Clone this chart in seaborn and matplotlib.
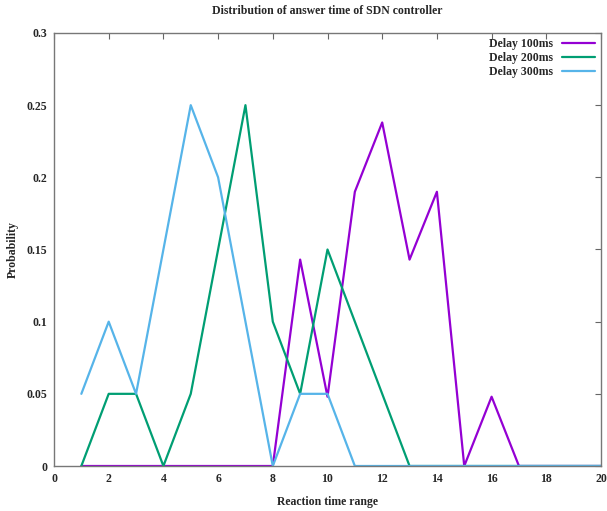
import matplotlib
matplotlib.use("Agg")
import matplotlib.pyplot as plt
import seaborn as sns
import pandas as pd
from matplotlib.ticker import FuncFormatter, MultipleLocator

x_range = list(range(1, 21))
delay_100 = [0, 0, 0, 0, 0, 0, 0, 0, 0.143, 0.048, 0.19, 0.238, 0.143, 0.19, 0, 0.048, 0, 0, 0, 0]
delay_200 = [0, 0.05, 0.05, 0, 0.05, 0.15, 0.25, 0.1, 0.05, 0.15, 0.1, 0.05, 0, 0, 0, 0, 0, 0, 0, 0]
delay_300 = [0.05, 0.1, 0.05, 0.15, 0.25, 0.2, 0.1, 0, 0.05, 0.05, 0, 0, 0, 0, 0, 0, 0, 0, 0, 0]
series_names = ["Delay 100ms", "Delay 200ms", "Delay 300ms"]
colors = ["#9400D3", "#009E73", "#56B4E9"]

df = pd.concat([
    pd.DataFrame({"x": x_range, "y": vals, "series": name})
    for name, vals in zip(series_names, [delay_100, delay_200, delay_300])
])

sns.set_style("white")
plt.rcParams['font.family'] = ['Liberation Serif', 'DejaVu Serif']
plt.rcParams['font.weight'] = 'bold'

fig = plt.figure(figsize=(6.07, 5.11), dpi=100)
ax = fig.add_axes([54/607, 45/511, 547/607, 433/511])
sns.lineplot(data=df, x="x", y="y", hue="series", palette=colors, linewidth=1.6, ax=ax, legend=True)

ax.set_xlim(0, 20)
ax.set_ylim(0, 0.3)
ax.xaxis.set_major_locator(MultipleLocator(2))
ax.yaxis.set_major_locator(MultipleLocator(0.05))
ax.yaxis.set_major_formatter(FuncFormatter(lambda v, p: "%g" % round(v, 3)))
ax.tick_params(direction="in", length=4, width=0.8, color="#666666", top=True, right=True,
               labelsize=8.5, pad=5)
for lab in ax.get_xticklabels() + ax.get_yticklabels():
    lab.set_fontweight("bold")
for s in ax.spines.values():
    s.set_color("#777777")
    s.set_linewidth(1.0)

ax.set_title("Distribution of answer time of SDN controller", fontsize=8.5, fontweight="bold", pad=14)
ax.set_xlabel("Reaction time range", fontsize=8.5, fontweight="bold", labelpad=8)
ax.set_ylabel("Probability", fontsize=8.5, fontweight="bold")
ax.yaxis.set_label_coords(-0.064, 0.5)

handles, labels = ax.get_legend_handles_labels()
leg = ax.legend(handles, labels, loc="upper right", frameon=False, markerfirst=False,
                fontsize=8.5, handlelength=2.8, labelspacing=0.15, borderaxespad=0.0,
                bbox_to_anchor=(0.998, 0.999))
for t in leg.get_texts():
    t.set_fontweight("bold")

fig.savefig("out.png", dpi=100)
